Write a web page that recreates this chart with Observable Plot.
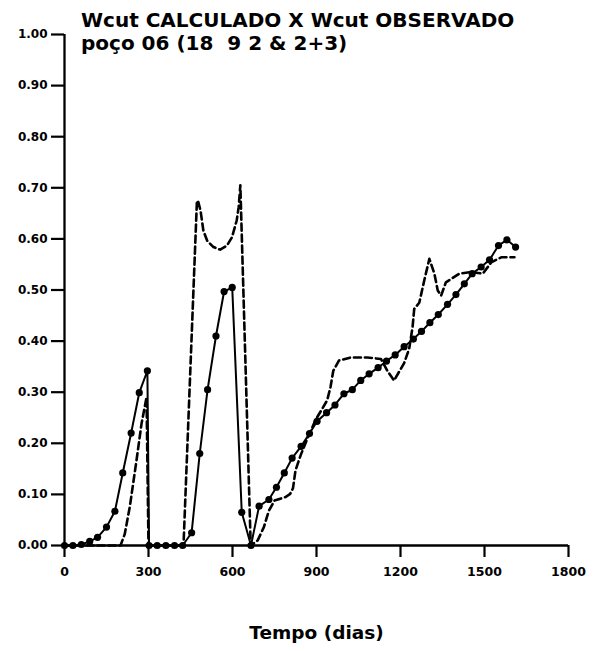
<!DOCTYPE html>
<html>
<head>
<meta charset="utf-8">
<script src="https://cdn.jsdelivr.net/npm/d3@7"></script>
<script src="https://cdn.jsdelivr.net/npm/@observablehq/plot@0.6"></script>
<style>
  html, body { margin: 0; padding: 0; background: #fff; }
  #wrap { position: relative; width: 603px; height: 651px; }
  #title { position: absolute; left: 81px; top: 9px; font-family: "DejaVu Sans", sans-serif; font-weight: bold;
           font-size: 20px; line-height: 22.7px; white-space: pre; color: #000; }
</style>
</head>
<body>
<div id="wrap">
  <div id="chart"></div>
  <div id="title">Wcut CALCULADO X Wcut OBSERVADO
poço 06 (18  9 2 &amp; 2+3)</div>
</div>
<script>
// Ticks
const xTicks = [0, 300, 600, 900, 1200, 1500, 1800];
const yTicks = [0, 0.1, 0.2, 0.3, 0.4, 0.5, 0.6, 0.7, 0.8, 0.9, 1.0];

// Wcut calculado (solid line with dots)
const calcDays = [0,30,60,90,118,150,180,208,238,267,296,302,331,362,393,422,454,483,511,541,570,599,633,666,695,730,757,785,813,845,875,902,936,966,998,1028,1058,1088,1120,1150,1181,1213,1246,1275,1305,1335,1368,1398,1428,1456,1488,1518,1550,1580,1611];
const calcVals = [0,0,0.002,0.008,0.016,0.036,0.067,0.142,0.22,0.299,0.342,0,0,0,0,0,0.025,0.18,0.305,0.41,0.497,0.505,0.065,0,0.077,0.09,0.114,0.142,0.171,0.194,0.219,0.243,0.26,0.275,0.297,0.305,0.323,0.336,0.348,0.361,0.373,0.389,0.404,0.419,0.436,0.452,0.472,0.491,0.512,0.532,0.545,0.559,0.587,0.598,0.584];

// Wcut observado (dashed line)
const obsDays = [0,200,215,233,257,275,293,300,425,473,478,486,496,510,532,556,580,598,615,622,628,665,690,712,730,750,790,806,816,825,843,867,896,938,950,960,980,1022,1081,1130,1153,1177,1213,1231,1243,1249,1267,1285,1303,1321,1333,1345,1362,1410,1452,1494,1524,1560,1607];
const obsVals = [0,0,0.022,0.075,0.166,0.238,0.29,0,0,0.675,0.672,0.655,0.616,0.596,0.584,0.579,0.587,0.603,0.636,0.662,0.705,0,0.01,0.036,0.068,0.088,0.095,0.101,0.112,0.147,0.176,0.209,0.245,0.284,0.31,0.342,0.362,0.368,0.368,0.365,0.342,0.323,0.357,0.385,0.427,0.463,0.475,0.519,0.561,0.532,0.499,0.489,0.515,0.532,0.535,0.532,0.554,0.564,0.564];

const xLabel = "Tempo (dias)";

const calc = calcDays.map((d, i) => ({day: d, v: calcVals[i]}));
const obs = obsDays.map((d, i) => ({day: d, v: obsVals[i]}));

const plot = Plot.plot({
  width: 603,
  height: 651,
  marginLeft: 64,
  marginRight: 35,
  marginTop: 34,
  marginBottom: 106,
  x: {domain: [0, 1800]},
  y: {domain: [0, 1]},
  style: {fontFamily: "DejaVu Sans", fontWeight: "bold", background: "#fff", color: "#000", overflow: "visible"},
  marks: [
    Plot.axisY(yTicks, {tickSize: 13, tickPadding: 4, tickFormat: d3.format(".2f"), fontSize: 12, strokeWidth: 2.2, label: null}),
    Plot.axisX(xTicks, {tickSize: 12, tickPadding: 10, tickFormat: d => String(d), fontSize: 12.5, strokeWidth: 2.2, label: null}),
    Plot.ruleX([0], {stroke: "#000", strokeWidth: 2.3}),
    Plot.ruleY([0], {stroke: "#000", strokeWidth: 2.3}),
    Plot.line(obs, {x: "day", y: "v", stroke: "#000", strokeWidth: 2.6, strokeDasharray: "7,4"}),
    Plot.line(calc, {x: "day", y: "v", stroke: "#000", strokeWidth: 2}),
    Plot.dot(calc, {x: "day", y: "v", r: 3.6, fill: "#000", stroke: "none"}),
    Plot.text([xLabel], {frameAnchor: "bottom", dy: 93, fontSize: 18.5, fontWeight: "bold", fill: "#000"})
  ]
});
document.getElementById("chart").appendChild(plot);
</script>
</body>
</html>
